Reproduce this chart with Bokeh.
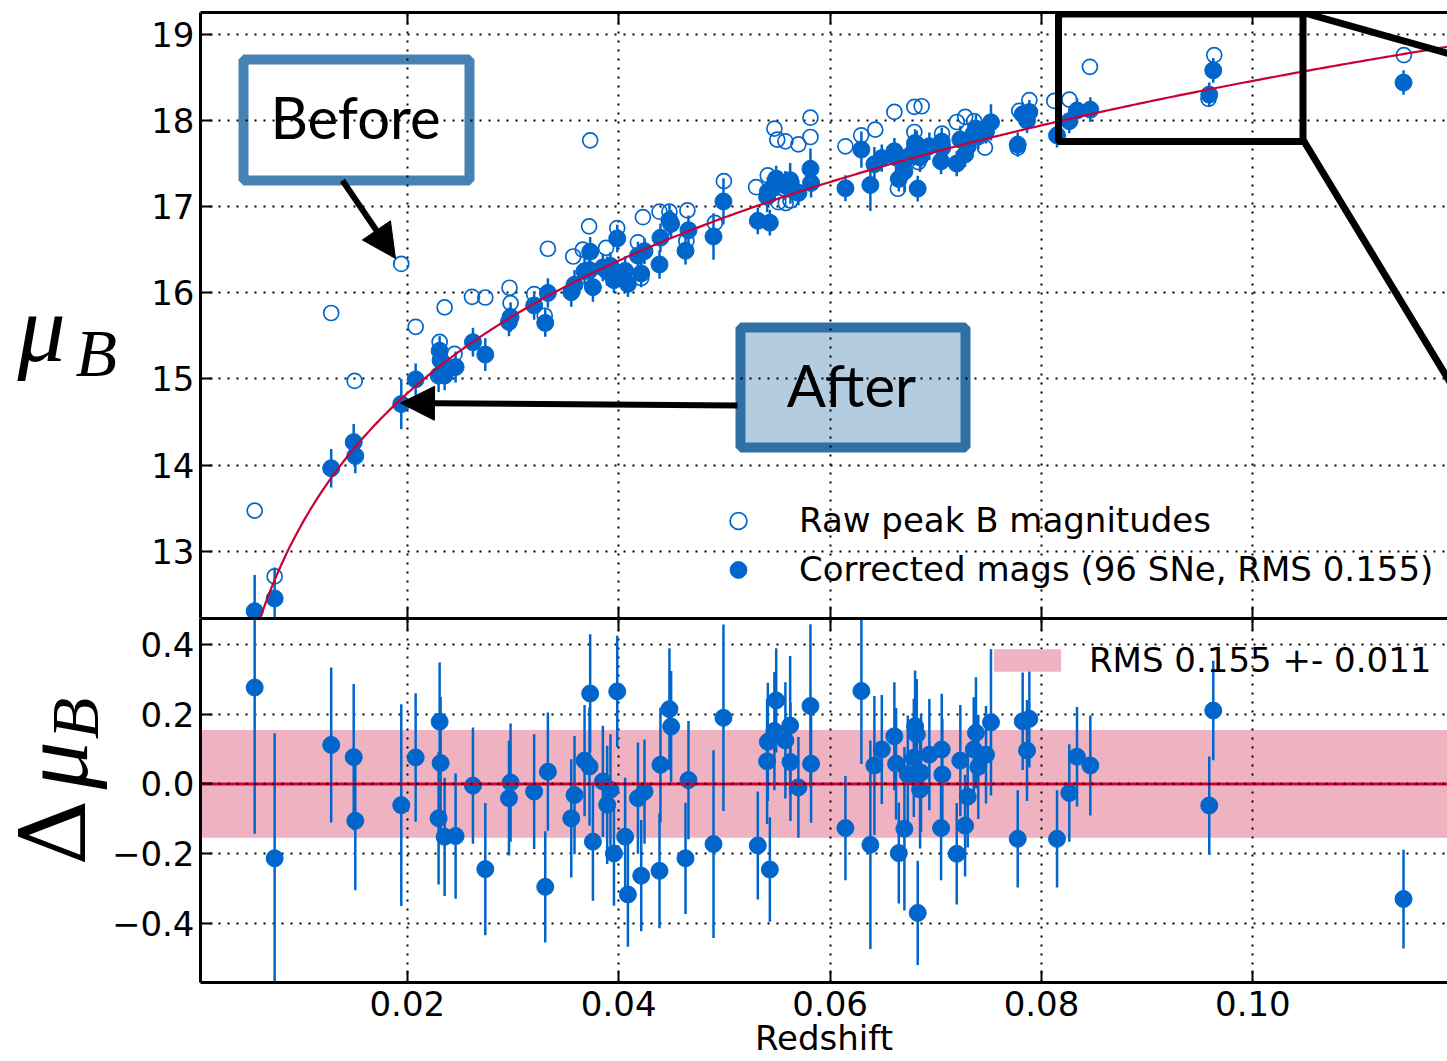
import numpy as np
from bokeh.plotting import figure
from bokeh.layouts import column, row
from bokeh.models import (FixedTicker, Legend, LegendItem, Label, BoxAnnotation, Arrow,
                          NormalHead, LinearAxis, Range1d, ColumnDataSource)
from bokeh.embed import file_html
from bokeh.resources import INLINE

# ---------------- data ----------------
z_sn = [0.00556, 0.00745, 0.0128, 0.01493, 0.01508, 0.01943, 0.02079, 0.02296, 0.02306, 0.02315,
        0.02353, 0.02457, 0.02621, 0.02738, 0.02962, 0.02977, 0.0320, 0.03305, 0.0333, 0.03551,
        0.03582, 0.03677, 0.03724, 0.0373, 0.03756, 0.0385, 0.03891, 0.03922, 0.03955, 0.03986,
        0.04061, 0.04087, 0.04182, 0.04213, 0.04244, 0.04386, 0.04395, 0.0448, 0.04496, 0.04632,
        0.0466, 0.04897, 0.04991, 0.05316, 0.05404, 0.05411, 0.0543, 0.05473, 0.0549, 0.05577,
        0.05622, 0.05625, 0.0570, 0.05814, 0.0582, 0.06145, 0.06296, 0.06381, 0.06419, 0.06489,
        0.06608, 0.06624, 0.0665, 0.06703, 0.06735, 0.06792, 0.06804, 0.0682, 0.06829, 0.06851,
        0.0686, 0.06939, 0.0705, 0.07056, 0.07062, 0.07198, 0.07232, 0.07277, 0.07302, 0.07359,
        0.0738, 0.07402, 0.07475, 0.07522, 0.07775, 0.07822, 0.07863, 0.07885, 0.08147, 0.08263,
        0.08336, 0.08462, 0.09587, 0.09625, 0.11425]
resid = [0.277, -0.214, 0.112, 0.077, -0.106, -0.061, 0.076, -0.099, 0.179, 0.060,
         -0.152, -0.150, -0.005, -0.245, -0.041, 0.004, -0.022, -0.296, 0.035, -0.099,
         -0.032, 0.067, 0.050, 0.260, -0.166, 0.007, -0.060, -0.017, -0.200, 0.266,
         -0.152, -0.318, -0.041, -0.264, -0.022, -0.250, 0.055, 0.215, 0.165, -0.214,
         0.011, -0.173, 0.190, -0.177, 0.065, 0.121, -0.246, 0.152, 0.240, 0.125,
         0.168, 0.063, -0.010, 0.224, 0.058, -0.127, 0.267, -0.175, 0.053, 0.099,
         0.137, 0.058, -0.199, -0.129, 0.027, 0.075, 0.166, 0.142, -0.371, -0.016,
         0.032, 0.084, -0.127, 0.099, 0.027, -0.201, 0.067, -0.120, -0.037, 0.099,
         0.147, 0.049, 0.084, 0.177, -0.158, 0.180, 0.096, 0.187, -0.158, -0.026,
         0.078, 0.053, -0.062, 0.211, -0.331]
err = [0.42, 0.36, 0.223, 0.21, 0.20, 0.29, 0.185, 0.19, 0.17, 0.19,
       0.17, 0.18, 0.167, 0.19, 0.165, 0.17, 0.165, 0.16, 0.17, 0.17,
       0.17, 0.16, 0.17, 0.17, 0.17, 0.16, 0.17, 0.16, 0.15, 0.16,
       0.17, 0.15, 0.16, 0.16, 0.15, 0.165, 0.165, 0.175, 0.16, 0.16,
       0.17, 0.27, 0.268, 0.155, 0.18, 0.17, 0.15, 0.17, 0.15, 0.167,
       0.20, 0.17, 0.145, 0.235, 0.17, 0.15, 0.21, 0.30, 0.20, 0.157,
       0.155, 0.16, 0.145, 0.235, 0.17, 0.17, 0.16, 0.16, 0.15, 0.17,
       0.17, 0.16, 0.15, 0.16, 0.16, 0.146, 0.16, 0.146, 0.146, 0.15,
       0.16, 0.15, 0.14, 0.21, 0.14, 0.14, 0.145, 0.14, 0.14, 0.14,
       0.143, 0.144, 0.141, 0.143, 0.142]

raw_z = [0.00556, 0.00745, 0.0128, 0.01502, 0.01943, 0.02079, 0.02353, 0.02306, 0.02447, 0.02612,
         0.02738, 0.02967, 0.02977, 0.0320, 0.0330, 0.0333, 0.0357, 0.0366, 0.0372, 0.0373,
         0.0388, 0.03986, 0.04182, 0.04213, 0.04229, 0.04386, 0.0448, 0.0465, 0.0464, 0.0491,
         0.04995, 0.0530, 0.0541, 0.05473, 0.0550, 0.05577, 0.0570, 0.05814, 0.05814, 0.05625,
         0.06145, 0.06294, 0.06427, 0.06608, 0.06797, 0.06866, 0.06641, 0.06797, 0.06835, 0.07059,
         0.07199, 0.07278, 0.07363, 0.07465, 0.07885, 0.07775, 0.08121, 0.08263, 0.08458, 0.0779,
         0.09634, 0.0958, 0.11428, 0.0551, 0.0558]
raw_mu = [13.473, 12.71, 15.765, 14.977, 16.334, 15.605, 15.83, 15.43, 15.29, 15.953,
          15.945, 16.058, 15.88, 15.985, 15.733, 16.51, 16.42, 16.50, 16.77, 17.767,
          16.52, 16.75, 16.585, 16.17, 16.876, 16.94, 16.94, 16.955, 16.60, 16.81,
          17.294, 17.224, 17.36, 17.903, 17.776, 17.756, 17.721, 17.806, 18.03, 17.07,
          17.698, 17.826, 17.892, 18.097, 18.155, 18.163, 17.206, 17.864, 17.515, 17.845,
          17.98, 18.04, 17.99, 17.683, 18.233, 17.683, 18.224, 18.24, 18.62, 18.11,
          18.756, 18.25, 18.756, 17.05, 17.04]

RMS = 0.155
RMS_ERR = 0.011
N_SNE = 96
# Hubble-law model curve (fit shown in red): mu = ZP + 5 log10(z (1 + (1-q0) z / 2))
ZP = 23.295
Q0 = -0.55

x_ticks = [0.02, 0.04, 0.06, 0.08, 0.10]
x_tick_labels = ["0.02", "0.04", "0.06", "0.08", "0.10"]
mu_ticks = [13, 14, 15, 16, 17, 18, 19]
d_ticks = [-0.4, -0.2, 0.0, 0.2, 0.4]
d_tick_labels = ["\u22120.4", "\u22120.2", "0.0", "0.2", "0.4"]

# ---------------- layout constants ----------------
PAGE_W, PAGE_H = 1447, 1061
TOP_H, BOT_H = 618, 443
LAB_W_TOP, LAB_W_BOT = 140, 108
X0, X1 = 0.000435, 0.11841
TOP_Y0, TOP_Y1 = 12.222, 19.25
BOT_Y0, BOT_Y1 = -0.571, 0.4756
BLUE = "#0066cc"
RED = "#cc0033"
PINK = "#efb2c0"
# empirical em offsets of Label anchors per font
SHIFT = {"Lato": 0.465, "Liberation Serif": 0.37, "DejaVu Serif": 0.41}


def hubble(z):
    z = np.asarray(z, dtype=float)
    return ZP + 5.0 * np.log10(z * (1.0 + 0.5 * (1.0 - Q0) * z))


# page pixel -> data helpers for annotations
def zx(px):
    return X0 + (px - 200.0) * (X1 - X0) / 1247.0


def ty(py):
    return TOP_Y1 - (py - 12.0) * (TOP_Y1 - TOP_Y0) / 606.0


z_arr = np.array(z_sn)
res_arr = np.array(resid)
err_arr = np.array(err)
mu_corr = hubble(z_arr) + res_arr

sn_src = ColumnDataSource(dict(z=z_arr, mu=mu_corr, mu_lo=mu_corr - err_arr, mu_hi=mu_corr + err_arr,
                               r=res_arr, r_lo=res_arr - err_arr, r_hi=res_arr + err_arr))
raw_src = ColumnDataSource(dict(z=raw_z, mu=raw_mu))
zc = np.linspace(0.004, 0.125, 500)
curve_src = ColumnDataSource(dict(z=zc, mu=hubble(zc)))

xr = Range1d(X0, X1)


def style_axis(ax, ticks, labels=None, show=True, standoff=6):
    ax.ticker = FixedTicker(ticks=ticks)
    ax.axis_line_color = "black"
    ax.axis_line_width = 3
    ax.major_tick_in = 12
    ax.major_tick_out = 0
    ax.major_tick_line_width = 2
    ax.major_tick_line_color = "black"
    ax.minor_tick_line_color = None
    if show:
        ax.major_label_text_font = "DejaVu Sans"
        ax.major_label_text_font_size = "34px"
        ax.major_label_text_color = "black"
        ax.major_label_standoff = standoff
        if labels is not None:
            ax.major_label_overrides = {t: l for t, l in zip(ticks, labels)}
    else:
        ax.major_label_overrides = {t: "" for t in ticks}
        ax.major_label_text_font_size = "1px"
        ax.major_label_standoff = 0


def style_grid(p, xt, yt):
    p.xgrid.ticker = FixedTicker(ticks=xt)
    p.ygrid.ticker = FixedTicker(ticks=yt)
    for g in (p.xgrid, p.ygrid):
        g.grid_line_color = "black"
        g.grid_line_width = 2
        g.grid_line_dash = "2 7"


def lab_strip(w, h):
    f = figure(width=w, height=h, x_range=Range1d(0, w), y_range=Range1d(h, 0),
               output_backend="svg", toolbar_location=None, min_border=0,
               x_axis_location=None, y_axis_location=None)
    f.outline_line_color = None
    f.xgrid.visible = False
    f.ygrid.visible = False
    return f


def math_label(fig, text, font, size, italic, x, y, angle=0.0, along=0.0):
    # (x, y): start of baseline in strip pixels; along: empirical offset along rotated text
    s = SHIFT[font] * size
    if angle == 0.0:
        ax_, ay_ = x, y - s
    else:
        ax_, ay_ = x - s, y + along
    fig.add_layout(Label(x=ax_, y=ay_, text=text, text_font=font,
                         text_font_style="italic" if italic else "normal",
                         text_font_size="%dpx" % size, text_align="left",
                         text_baseline="alphabetic", angle=angle, text_color="black"))


# ================= top panel =================
top = figure(width=PAGE_W - LAB_W_TOP, height=TOP_H, x_range=xr, y_range=Range1d(TOP_Y0, TOP_Y1),
             output_backend="svg", toolbar_location=None,
             min_border_left=200 - LAB_W_TOP, min_border_right=0, min_border_top=12, min_border_bottom=0)
top.outline_line_color = None
style_axis(top.yaxis[0], mu_ticks, standoff=6)
style_axis(top.xaxis[0], x_ticks, show=False)
ax_top = LinearAxis()
style_axis(ax_top, x_ticks, show=False)
top.add_layout(ax_top, "above")
style_grid(top, x_ticks, mu_ticks)

# annotation boxes (below grid)
top.add_layout(BoxAnnotation(left=zx(243), right=zx(469), top=ty(59), bottom=ty(180),
                             fill_color="white", fill_alpha=1.0, line_color="#4682b4",
                             line_alpha=1.0, line_width=10, level="image"))
top.add_layout(BoxAnnotation(left=zx(740), right=zx(965), top=ty(327), bottom=ty(447),
                             fill_color="#b4cce0", fill_alpha=1.0, line_color="#3070a5",
                             line_alpha=1.0, line_width=10, level="image"))

r_raw = top.scatter("z", "mu", source=raw_src, marker="circle", size=15,
                    fill_color=None, line_color=BLUE, line_width=1.7)
top.segment(x0="z", y0="mu_lo", x1="z", y1="mu_hi", source=sn_src, line_color=BLUE, line_width=2.5)
r_cor = top.scatter("z", "mu", source=sn_src, marker="circle", size=17,
                    fill_color=BLUE, line_color=BLUE, line_width=1)
top.line("z", "mu", source=curve_src, line_color=RED, line_width=2.2)

top.add_layout(Label(x=zx(355), y=ty(143 - SHIFT["Lato"] * 58), text="Before", text_align="center",
                     text_baseline="alphabetic", text_font="Lato", text_font_size="58px",
                     text_color="black"))
top.add_layout(Label(x=zx(851), y=ty(411 - SHIFT["Lato"] * 58), text="After", text_align="center",
                     text_baseline="alphabetic", text_font="Lato", text_font_size="58px",
                     text_color="black"))

top.add_layout(Arrow(end=NormalHead(size=34, fill_color="black", line_color="black"),
                     x_start=zx(342), y_start=ty(180), x_end=zx(395), y_end=ty(258),
                     line_color="black", line_width=6))
top.add_layout(Arrow(end=NormalHead(size=34, fill_color="black", line_color="black"),
                     x_start=zx(737), y_start=ty(405), x_end=zx(400), y_end=ty(402.5),
                     line_color="black", line_width=6))

# zoom rectangle and connector lines
top.add_layout(BoxAnnotation(left=zx(1058), right=zx(1302.5), top=ty(13.5), bottom=ty(141),
                             fill_color=None, fill_alpha=0, line_color="black", line_alpha=1.0,
                             line_width=7))
top.add_layout(Arrow(end=None, x_start=zx(1302), y_start=ty(12), x_end=zx(1460), y_end=ty(56.5),
                     line_color="black", line_width=7))
top.add_layout(Arrow(end=None, x_start=zx(1303), y_start=ty(140), x_end=zx(1460), y_end=ty(399),
                     line_color="black", line_width=7))

leg = Legend(items=[LegendItem(label="Raw peak B magnitudes", renderers=[r_raw]),
                    LegendItem(label="Corrected mags (%d SNe, RMS %.3f)" % (N_SNE, RMS), renderers=[r_cor])],
             location=(517, 24.5), padding=0, margin=0, spacing=0,
             border_line_color=None, background_fill_alpha=0,
             label_text_font="DejaVu Sans", label_text_font_size="34px", label_text_color="black",
             glyph_width=42, glyph_height=49, label_height=49, label_standoff=40)
top.add_layout(leg)

# ================= bottom panel =================
bot = figure(width=PAGE_W - LAB_W_BOT, height=BOT_H, x_range=xr, y_range=Range1d(BOT_Y0, BOT_Y1),
             output_backend="svg", toolbar_location=None,
             min_border_left=200 - LAB_W_BOT, min_border_right=0, min_border_top=0, min_border_bottom=79)
bot.outline_line_color = None
style_axis(bot.yaxis[0], d_ticks, d_tick_labels, standoff=6)
style_axis(bot.xaxis[0], x_ticks, x_tick_labels, standoff=8)
bot.xaxis[0].axis_label = "Redshift"
bot.xaxis[0].axis_label_text_font = "DejaVu Sans"
bot.xaxis[0].axis_label_text_font_size = "34px"
bot.xaxis[0].axis_label_text_font_style = "normal"
bot.xaxis[0].axis_label_text_color = "black"
bot.xaxis[0].axis_label_standoff = -1
ax_top2 = LinearAxis()
style_axis(ax_top2, x_ticks, show=False)
bot.add_layout(ax_top2, "above")
style_grid(bot, x_ticks, d_ticks)

r_band = bot.varea(x=[X0, X1], y1=[-RMS, -RMS], y2=[RMS, RMS],
                   fill_color=PINK, fill_alpha=1.0, level="image")
bot.segment(x0="z", y0="r_lo", x1="z", y1="r_hi", source=sn_src, line_color=BLUE, line_width=2.5)
bot.scatter("z", "r", source=sn_src, marker="circle", size=17, fill_color=BLUE,
            line_color=BLUE, line_width=1)
bot.line(x=[X0, X1], y=[0, 0], line_color=RED, line_width=3)
bot.line(x=[X0, X1], y=[0, 0], line_color="black", line_width=1.5, line_dash="2 7")

leg2 = Legend(items=[LegendItem(label="RMS %.3f +- %.3f" % (RMS, RMS_ERR), renderers=[r_band])],
              location=(785, 302), padding=0, margin=0, spacing=0,
              border_line_color=None, background_fill_alpha=0,
              label_text_font="DejaVu Sans", label_text_font_size="34px", label_text_color="black",
              glyph_width=84, glyph_height=28, label_height=28, label_standoff=20)
bot.add_layout(leg2)

# ================= y-axis labels (own strips on the left) =================
lab_top = lab_strip(LAB_W_TOP, TOP_H)
math_label(lab_top, "\u03bc", "Liberation Serif", 96, True, 17, 358)
math_label(lab_top, "B", "Liberation Serif", 68, True, 75, 372)

lab_bot = lab_strip(LAB_W_BOT, BOT_H)
# rotated label reading upwards; coordinates relative to the strip (page y - 618)
math_label(lab_bot, "\u0394", "DejaVu Serif", 92, False, 91, 872 - TOP_H, angle=np.pi / 2, along=47)
math_label(lab_bot, "\u03bc", "Liberation Serif", 96, True, 90, 790 - TOP_H, angle=np.pi / 2, along=36)
math_label(lab_bot, "B", "Liberation Serif", 68, True, 100, 737 - TOP_H, angle=np.pi / 2, along=28)

layout = column(row(lab_top, top, spacing=0), row(lab_bot, bot, spacing=0), spacing=0)
open("out.html", "w").write(file_html(layout, INLINE))
